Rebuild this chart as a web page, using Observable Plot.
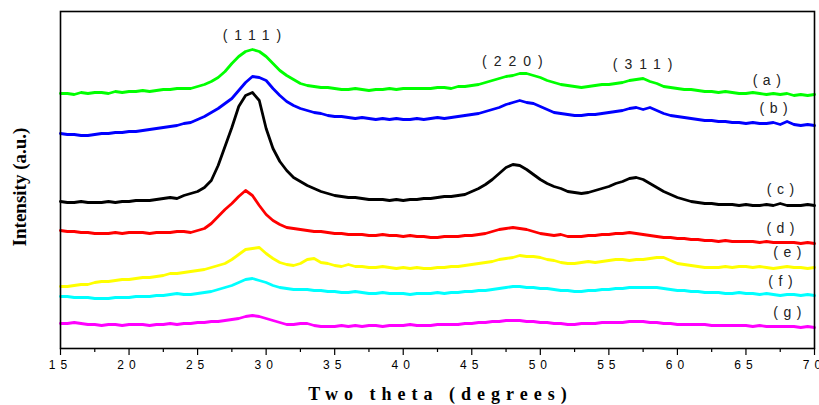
<!DOCTYPE html>
<html>
<head>
<meta charset="utf-8">
<script src="https://cdn.jsdelivr.net/npm/d3@7"></script>
<script src="https://cdn.jsdelivr.net/npm/@observablehq/plot@0.6"></script>
<style>
html, body { margin: 0; padding: 0; background: #fff; }
g[aria-label="x-axis tick label"] text { letter-spacing: 5px; }
</style>
</head>
<body>
<div id="chart"></div>
<script>
// 2θ sampling grid (degrees)
const twoTheta = [
  15,15.5,16,16.5,17,17.5,18,18.5,19,19.5,
  20,20.5,21,21.5,22,22.5,23,23.5,24,24.5,
  25,25.5,26,26.5,27,27.5,28,28.5,29,29.5,
  30,30.5,31,31.5,32,32.5,33,33.5,34,34.5,
  35,35.5,36,36.5,37,37.5,38,38.5,39,39.5,
  40,40.5,41,41.5,42,42.5,43,43.5,44,44.5,
  45,45.5,46,46.5,47,47.5,48,48.5,49,49.5,
  50,50.5,51,51.5,52,52.5,53,53.5,54,54.5,
  55,55.5,56,56.5,57,57.5,58,58.5,59,59.5,
  60,60.5,61,61.5,62,62.5,63,63.5,64,64.5,
  65,65.5,66,66.5,67,67.5,68,68.5,69,69.5,
  70
];

// Intensities (a.u., stacked with vertical offsets as in the figure)
const curveA = [
  255,255,254,256,255,256,256,255,257,256,
  257,257,258,257,258,259,259,260,260,260,
  262,264,267,271,277,285,292,297,299,297,
  292,285,278,273,269,265,263,262,261,261,
  260,259,259,260,259,258,259,259,260,259,
  260,260,260,260,260,261,261,260,262,262,
  263,264,266,268,270,272,273,275,275,273,
  271,268,266,264,263,262,261,262,263,264,
  264,265,266,268,269,270,267,265,262,261,
  260,259,259,258,257,257,256,257,256,255,
  255,256,255,254,255,254,255,253,254,253,
  254
];
const curveB = [
  215,214,214,213,213,214,215,215,216,216,
  217,217,218,219,220,221,222,223,225,226,
  229,232,236,240,245,250,258,266,272,271,
  268,260,253,247,243,240,238,236,235,233,
  232,232,231,230,231,230,229,230,229,230,
  229,229,230,229,230,231,230,231,232,233,
  234,235,237,239,241,244,246,248,246,245,
  242,239,236,235,234,233,233,234,234,235,
  236,237,238,240,241,239,241,238,235,233,
  232,231,230,229,228,228,227,227,226,226,
  225,226,225,225,226,224,227,224,223,224,
  223
];
const curveC = [
  147,146,146,147,146,146,146,147,146,147,
  147,148,148,148,149,150,151,150,153,155,
  157,161,168,183,202,221,242,253,256,248,
  220,200,187,178,171,167,163,160,157,155,
  153,152,151,151,150,149,149,149,148,149,
  148,149,149,150,150,151,152,152,153,154,
  157,160,164,169,175,181,184,183,179,174,
  169,165,162,160,157,156,155,156,158,160,
  162,165,167,170,171,169,165,161,157,154,
  151,149,147,146,145,145,144,144,144,143,
  144,143,143,144,143,145,143,143,143,144,
  143
];
const curveD = [
  118,117,117,116,116,115,115,115,116,115,
  116,116,116,115,116,116,116,117,117,116,
  118,120,125,132,139,145,152,158,153,143,
  134,128,124,121,120,119,118,117,117,116,
  115,115,114,114,114,113,113,114,113,113,
  112,113,112,112,111,111,112,112,112,113,
  113,114,115,117,119,120,121,120,119,117,
  115,114,113,114,112,112,112,113,113,114,
  114,115,115,116,115,114,113,112,111,111,
  110,110,109,109,108,108,107,108,107,107,
  107,107,106,107,106,106,106,106,105,106,
  105
];
const curveE = [
  62,62,63,64,64,66,67,67,68,69,
  69,70,71,71,72,73,75,75,76,77,
  78,79,81,83,85,89,94,99,100,101,
  95,90,86,84,83,85,89,90,86,85,
  83,82,84,82,82,81,81,82,81,80,
  81,80,81,80,80,81,81,82,82,83,
  84,85,86,87,89,90,91,93,92,92,
  91,89,88,86,85,85,86,87,86,87,
  88,89,89,88,89,89,90,91,91,88,
  85,84,83,82,81,81,81,82,81,82,
  82,81,82,81,80,81,82,81,81,80,
  81
];
const curveF = [
  52,52,51,51,51,50,50,50,51,51,
  51,52,52,52,53,53,54,55,54,54,
  55,56,57,59,61,63,66,69,70,68,
  66,63,61,60,59,59,59,58,58,57,
  57,56,56,57,56,55,55,56,55,55,
  55,54,55,55,55,56,55,56,56,57,
  57,58,58,59,60,61,62,62,61,61,
  60,60,59,58,58,57,57,58,58,59,
  59,60,60,61,61,61,61,61,60,59,
  58,58,57,57,56,56,56,55,55,56,
  55,55,54,55,54,53,54,54,53,54,
  53
];
const curveG = [
  25,25,26,25,24,24,23,24,24,23,
  24,24,24,23,24,24,25,24,25,25,
  26,26,27,27,28,29,30,32,33,32,
  30,28,26,24,24,25,25,23,22,22,
  22,23,22,23,22,23,23,22,23,23,
  23,24,23,23,23,24,24,24,24,25,
  25,26,26,27,27,28,28,28,27,27,
  26,26,25,25,24,24,25,25,25,26,
  26,26,26,27,27,27,26,26,25,25,
  24,24,24,24,24,23,23,23,23,23,
  23,22,23,22,22,22,22,22,21,22,
  21
];

const sampleNames = ["(a)", "(b)", "(c)", "(d)", "(e)", "(f)", "(g)"];
const sampleColors = ["#00ff00", "#0000ff", "#000000", "#ff0000", "#ffff00", "#00ffff", "#ff00ff"];
const sampleLabelTheta = [66.5, 67, 67.5, 67.5, 68, 67.5, 68];

const peakNames = ["(111)", "(220)", "(311)"];
const peakTheta = [29, 48, 57.5];

const xTicks = [15, 20, 25, 30, 35, 40, 45, 50, 55, 60, 65, 70];
const xMinorTicks = [17.5, 22.5, 27.5, 32.5, 37.5, 42.5, 47.5, 52.5, 57.5, 62.5, 67.5];

const xTitle = "Two theta (degrees)";
const yTitle = "Intensity (a.u.)";

// Build tables
const curves = [curveA, curveB, curveC, curveD, curveE, curveF, curveG];
const rows = [];
curves.forEach((vals, s) => {
  vals.forEach((v, i) => rows.push({sample: sampleNames[s], theta: twoTheta[i], intensity: v}));
});
const sampleLabels = sampleNames.map((name, s) => ({
  name, theta: sampleLabelTheta[s],
  intensity: curves[s][twoTheta.indexOf(sampleLabelTheta[s])]
}));
const peakLabels = peakNames.map((name, p) => ({
  name, theta: peakTheta[p],
  intensity: curveA[twoTheta.indexOf(peakTheta[p])]
}));

const sansFont = "'Liberation Sans', Arial, Helvetica, sans-serif";
const serifFont = "'Liberation Serif', 'Times New Roman', Times, serif";

const plot = Plot.plot({
  width: 819,
  height: 405,
  marginLeft: 60,
  marginRight: 5,
  marginTop: 11,
  marginBottom: 57,
  x: {domain: [15, 70]},
  y: {domain: [0, 337], axis: null},
  color: {domain: sampleNames, range: sampleColors},
  style: {fontFamily: sansFont, fontSize: "12px", color: "black", background: "white"},
  marks: [
    Plot.axisX({ticks: xMinorTicks, tickSize: 4, tickFormat: () => "", label: null, strokeWidth: 1.2}),
    Plot.axisX({ticks: xTicks, tickSize: 7, tickPadding: 5, tickFormat: d => String(d), label: null, fontSize: 12, strokeWidth: 1.2}),
    Plot.line(rows, {x: "theta", y: "intensity", z: "sample", stroke: "sample", strokeWidth: 2.8, strokeLinejoin: "round"}),
    Plot.frame({stroke: "black", strokeWidth: 1.6}),
    Plot.text(peakLabels, {x: "theta", y: "intensity", text: "name", dy: -14, dx: 3, fontSize: 14, fill: "#222", fontFamily: sansFont}),
    Plot.text(sampleLabels, {x: "theta", y: "intensity", text: "name", dy: -14, dx: 3, fontSize: 14, fill: "#222", fontFamily: sansFont}),
    Plot.text([xTitle], {text: d => d, frameAnchor: "bottom", dy: 46, dx: 3, lineAnchor: "middle", textAnchor: "middle", fontFamily: serifFont, fontWeight: "bold", fontSize: 18, fill: "black"}),
    Plot.text([yTitle], {text: d => d, frameAnchor: "left", rotate: -90, dx: -41, dy: 7, lineAnchor: "middle", textAnchor: "middle", fontFamily: serifFont, fontWeight: "bold", fontSize: 19, fill: "black"})
  ]
});

// letter-spacing as in the original figure
d3.select(plot).selectAll("text").each(function () {
  const t = this.textContent;
  if (peakNames.includes(t)) this.style.letterSpacing = "7px";
  else if (sampleNames.includes(t)) this.style.letterSpacing = "5.5px";
  else if (t === xTitle) this.style.letterSpacing = "6px";
});
document.getElementById("chart").appendChild(plot);
</script>
</body>
</html>
